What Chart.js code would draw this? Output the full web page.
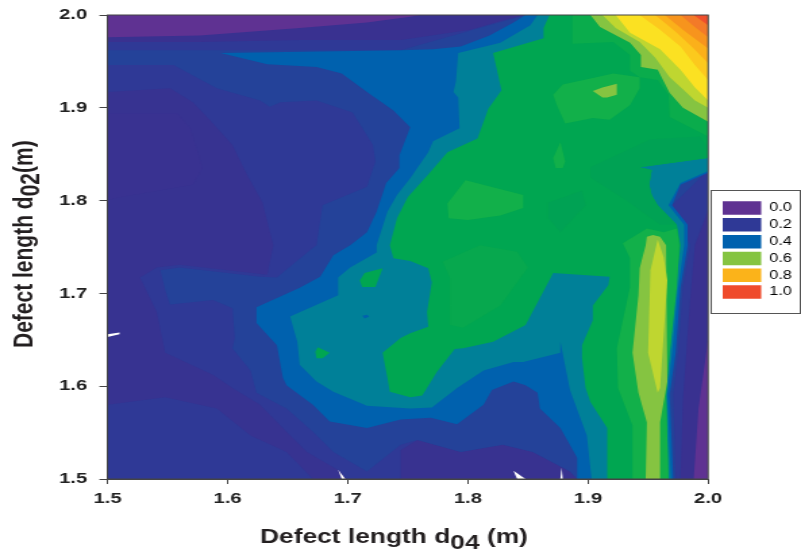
<!DOCTYPE html>
<html>
<head>
<meta charset="utf-8">
<title>Defect length contour</title>
<script src="https://cdn.jsdelivr.net/npm/chart.js@4"></script>
<style>
  html, body { margin: 0; background: #fff; overflow: hidden; }
  /* the source figure is stretched sideways, so the whole chart is too */
  #plot { position: absolute; left: 0; top: 0; transform-origin: 0 0; transform: scaleX(1.3508); }
</style>
</head>
<body>
<canvas id="plot" width="593" height="552"></canvas>
<script>
const xTicks = [1.5, 1.6, 1.7, 1.8, 1.9, 2.0];
const yTicks = [1.5, 1.6, 1.7, 1.8, 1.9, 2.0];
const legendLabels = ['0.0', '0.2', '0.4', '0.6', '0.8', '1.0'];
const legendColors = ['#5f3292', '#2f3996', '#0061ae', '#85c441', '#fbb31a', '#ef4a2b'];

// contour outlines, [d04, d02] in metres
const full = [[1.5,1.5],[1.5,2],[2,2],[2,1.5]];
const topBand = [[1.5,2],[1.848,2],[1.831,1.995],[1.802,1.984],[1.744,1.973],[1.66,1.973],[1.577,1.971],[1.5,1.971]];
const topPurple = [[1.5,2],[1.76,2],[1.752,1.998],[1.716,1.992],[1.66,1.986],[1.577,1.978],[1.5,1.976]];
const leftLow = [[1.5,1.917],[1.552,1.921],[1.571,1.906],[1.585,1.887],[1.604,1.86],[1.616,1.828],[1.629,1.798],[1.638,1.752],[1.633,1.72],[1.56,1.731],[1.541,1.728],[1.527,1.717],[1.541,1.68],[1.548,1.636],[1.558,1.63],[1.588,1.612],[1.604,1.598],[1.627,1.58],[1.649,1.551],[1.666,1.529],[1.694,1.508],[1.699,1.5],[1.671,1.5],[1.649,1.529],[1.619,1.547],[1.591,1.576],[1.548,1.588],[1.5,1.58]];
const leftInner = [[1.5,1.894],[1.558,1.894],[1.569,1.878],[1.579,1.835],[1.571,1.817],[1.521,1.806],[1.5,1.801]];
const bottomLow = [[1.744,1.5],[1.744,1.531],[1.758,1.542],[1.794,1.529],[1.829,1.537],[1.854,1.529],[1.885,1.508],[1.891,1.5]];
const rightLow = [[2,1.79],[1.989,1.752],[1.985,1.693],[1.979,1.585],[1.977,1.5],[2,1.5]];
const rightPurple = [[2,1.65],[1.992,1.576],[1.988,1.5],[2,1.5]];
const midBlue = [[1.5,1.962],[1.744,1.962],[1.848,2],[2,2],[2,1.833],[1.97,1.795],[1.985,1.752],[1.979,1.706],[1.975,1.636],[1.971,1.591],[1.973,1.5],[1.891,1.5],[1.885,1.508],[1.854,1.529],[1.829,1.537],[1.794,1.529],[1.758,1.542],[1.744,1.537],[1.716,1.508],[1.688,1.529],[1.671,1.551],[1.649,1.576],[1.624,1.593],[1.619,1.617],[1.604,1.641],[1.606,1.652],[1.604,1.684],[1.588,1.693],[1.552,1.688],[1.548,1.704],[1.544,1.725],[1.56,1.728],[1.627,1.718],[1.641,1.717],[1.669,1.747],[1.674,1.752],[1.679,1.795],[1.716,1.815],[1.723,1.842],[1.721,1.86],[1.704,1.895],[1.674,1.908],[1.644,1.906],[1.635,1.901],[1.627,1.908],[1.591,1.921],[1.575,1.932],[1.555,1.946],[1.5,1.946]];
const blue = [[1.848,2],[1.838,1.992],[1.818,1.978],[1.794,1.966],[1.771,1.963],[1.744,1.962],[1.594,1.959],[1.633,1.947],[1.674,1.944],[1.695,1.937],[1.716,1.917],[1.738,1.897],[1.752,1.879],[1.743,1.849],[1.743,1.835],[1.732,1.819],[1.724,1.788],[1.716,1.766],[1.702,1.752],[1.688,1.741],[1.677,1.718],[1.66,1.706],[1.624,1.685],[1.624,1.668],[1.641,1.644],[1.646,1.609],[1.649,1.601],[1.671,1.58],[1.685,1.562],[1.716,1.555],[1.744,1.564],[1.769,1.566],[1.791,1.559],[1.813,1.58],[1.82,1.596],[1.838,1.605],[1.848,1.601],[1.858,1.593],[1.86,1.576],[1.877,1.555],[1.891,1.523],[1.891,1.5],[1.971,1.5],[1.968,1.591],[1.973,1.636],[1.977,1.706],[1.983,1.752],[1.983,1.774],[1.97,1.795],[1.977,1.817],[2,1.83],[2,2]];
const teal = [[1.858,2],[1.852,1.989],[1.827,1.97],[1.792,1.959],[1.79,1.928],[1.788,1.917],[1.792,1.911],[1.793,1.878],[1.771,1.864],[1.767,1.852],[1.752,1.824],[1.741,1.806],[1.733,1.788],[1.724,1.752],[1.724,1.744],[1.702,1.728],[1.692,1.717],[1.692,1.698],[1.652,1.675],[1.658,1.648],[1.66,1.623],[1.674,1.605],[1.688,1.594],[1.716,1.579],[1.752,1.576],[1.77,1.577],[1.791,1.598],[1.813,1.617],[1.838,1.626],[1.846,1.626],[1.877,1.636],[1.877,1.648],[1.885,1.596],[1.899,1.547],[1.903,1.5],[1.969,1.5],[1.966,1.591],[1.97,1.636],[1.975,1.706],[1.98,1.752],[1.98,1.774],[1.967,1.795],[1.977,1.819],[2,1.832],[2,2]];
const tealBump1 = [[1.71,1.714],[1.714,1.722],[1.729,1.727],[1.723,1.707],[1.712,1.707]];
const tealBump2 = [[1.673,1.637],[1.675,1.642],[1.685,1.636],[1.679,1.63],[1.674,1.63]];
const blueDot = [[1.712,1.676],[1.716,1.677],[1.718,1.675],[1.714,1.673]];
const green = [[1.868,2],[1.863,1.986],[1.863,1.975],[1.821,1.959],[1.828,1.919],[1.817,1.899],[1.808,1.867],[1.783,1.852],[1.767,1.828],[1.75,1.804],[1.741,1.781],[1.735,1.752],[1.738,1.738],[1.752,1.735],[1.767,1.727],[1.77,1.712],[1.766,1.68],[1.767,1.664],[1.752,1.657],[1.744,1.652],[1.729,1.636],[1.733,1.609],[1.735,1.594],[1.752,1.588],[1.762,1.59],[1.774,1.615],[1.789,1.64],[1.796,1.641],[1.821,1.648],[1.848,1.666],[1.871,1.722],[1.918,1.718],[1.917,1.709],[1.904,1.687],[1.904,1.671],[1.895,1.644],[1.895,1.63],[1.898,1.598],[1.902,1.583],[1.916,1.555],[1.916,1.5],[1.967,1.5],[1.965,1.591],[1.968,1.636],[1.973,1.706],[1.977,1.752],[1.974,1.774],[1.958,1.795],[1.953,1.806],[1.951,1.817],[1.953,1.833],[1.943,1.836],[2,1.846],[2,2]];
const darkGreenRight = [[1.902,1.836],[1.952,1.866],[1.993,1.869],[1.999,1.858],[1.999,1.846],[1.943,1.836],[1.953,1.833],[1.951,1.817],[1.953,1.806],[1.958,1.795],[1.974,1.774],[1.96,1.774],[1.931,1.801],[1.902,1.825]];
const darkGreenMid = [[1.867,1.798],[1.895,1.811],[1.898,1.795],[1.877,1.766],[1.867,1.781]];
const softGreen = [[1.779,1.734],[1.81,1.752],[1.841,1.745],[1.85,1.728],[1.827,1.687],[1.796,1.663],[1.785,1.666],[1.785,1.717]];
const lightGreenLeft = [[1.783,1.797],[1.798,1.822],[1.846,1.806],[1.846,1.792],[1.827,1.784],[1.8,1.779],[1.784,1.781]];
const lightGreenTop = [[1.887,2],[1.902,2],[1.91,1.987],[1.935,1.97],[1.944,1.957],[1.944,1.944],[1.958,1.941],[1.968,1.916],[1.979,1.9],[2,1.885],[2,1.869],[1.968,1.89],[1.967,1.914],[1.958,1.93],[1.943,1.933],[1.935,1.94],[1.935,1.957],[1.921,1.971],[1.887,1.969]];
const lightGreenCentre = [[1.871,1.914],[1.879,1.925],[1.904,1.932],[1.921,1.937],[1.943,1.933],[1.943,1.921],[1.935,1.903],[1.918,1.887],[1.904,1.889],[1.881,1.883],[1.874,1.903]];
const lightGreenTear = [[1.877,1.863],[1.881,1.842],[1.879,1.835],[1.873,1.835],[1.871,1.846]];
const limeDrop = [[1.904,1.918],[1.912,1.922],[1.924,1.926],[1.924,1.914],[1.916,1.911],[1.912,1.911]];
const ribbon1 = [[1.929,1.754],[1.949,1.77],[1.963,1.766],[1.974,1.77],[1.976,1.752],[1.974,1.706],[1.968,1.636],[1.965,1.591],[1.967,1.5],[1.937,1.5],[1.937,1.558],[1.925,1.598],[1.924,1.641],[1.935,1.707],[1.935,1.738]];
const ribbon2 = [[1.949,1.761],[1.954,1.763],[1.96,1.761],[1.965,1.752],[1.966,1.706],[1.966,1.636],[1.966,1.605],[1.96,1.561],[1.96,1.5],[1.948,1.5],[1.949,1.561],[1.942,1.593],[1.937,1.636],[1.942,1.698],[1.943,1.727],[1.948,1.752]];
const ribbon3 = [[1.958,1.758],[1.952,1.725],[1.95,1.636],[1.958,1.593],[1.96,1.598],[1.966,1.714],[1.963,1.739]];
const cornerA = [[1.902,2],[1.91,1.987],[1.935,1.97],[1.944,1.957],[1.944,1.944],[1.958,1.941],[1.968,1.916],[1.979,1.9],[2,1.885],[2,2]];
const cornerB = [[1.912,2],[1.923,1.986],[1.943,1.971],[1.956,1.954],[1.968,1.933],[1.979,1.92],[1.989,1.908],[2,1.9],[2,2]];
const cornerC = [[1.923,2],[1.935,1.981],[1.96,1.963],[1.977,1.941],[1.989,1.922],[2,1.908],[2,2]];
const cornerD = [[1.943,2],[1.96,1.984],[1.977,1.966],[1.989,1.946],[2,1.93],[2,2]];
const cornerE = [[1.956,2],[1.973,1.982],[1.988,1.964],[2,1.948],[2,2]];
const cornerF = [[1.964,2],[1.979,1.984],[2,1.964],[2,2]];
const cornerG = [[1.977,2],[1.989,1.987],[2,1.976],[2,2]];
const cornerH = [[1.988,2],[2,1.989],[2,2]];
const flecks = [
  [[1.5,1.653],[1.51,1.656],[1.51,1.658],[1.5,1.656]],
  [[1.692,1.51],[1.698,1.5],[1.695,1.5]],
  [[1.838,1.509],[1.848,1.5],[1.841,1.5]],
  [[1.878,1.512],[1.879,1.5],[1.877,1.5]]
];

// paint order, low values first
const layers = [
  [full, '#2f3996'], [topBand, '#393190'], [topPurple, '#5f3292'],
  [leftLow, '#373391'], [leftInner, '#393291'], [bottomLow, '#383290'],
  [rightLow, '#393190'], [rightPurple, '#5f3292'],
  [midBlue, '#244299'], [blue, '#0061ae'], [teal, '#008098'], [tealBump1, '#00a651'],
  [tealBump2, '#00a651'], [blueDot, '#0061ae'], [green, '#00a651'],
  [darkGreenRight, '#00a254'], [darkGreenMid, '#00a254'], [softGreen, '#07a84e'],
  [lightGreenLeft, '#12b04a'], [lightGreenTop, '#0aac4c'], [lightGreenCentre, '#12b04a'],
  [lightGreenTear, '#12b04a'], [limeDrop, '#85c441'], [ribbon1, '#12b04a'],
  [ribbon2, '#85c441'], [ribbon3, '#bfd630'], [cornerA, '#85c441'], [cornerB, '#bfd630'],
  [cornerC, '#fbe122'], [cornerD, '#fcc91d'], [cornerE, '#fbb01a'], [cornerF, '#f7941d'],
  [cornerG, '#f37a28'], [cornerH, '#ef4f2c'],
  ...flecks.map(f => [f, '#ffffff'])
];

// axis titles have lowered digits and the legend sits in a frame
const framePlugin = {
  id: 'frame',
  beforeDraw(chart) {
    const legend = chart.legend;
    legend.left = 531.7;
    legend.right = 593;
    legend.top = 198;
    legend.bottom = 320;
  },
  afterDraw(chart) {
    const { ctx, chartArea: a } = chart;
    ctx.save();
    ctx.strokeStyle = '#444';
    ctx.lineWidth = 1;
    ctx.strokeRect(a.left, a.top, a.right - a.left, a.bottom - a.top);
    ctx.strokeStyle = '#555';
    ctx.strokeRect(526.5, 190.5, 66, 123);

    ctx.fillStyle = '#231f20';
    ctx.textBaseline = 'alphabetic';
    ctx.font = 'bold 19.5px "Liberation Sans"';
    let x = 192.5;
    for (const [text, drop] of [['Defect length d', 0], ['04', 5.5], [' (m)', 0]]) {
      ctx.fillText(text, x, 543 + drop);
      x += ctx.measureText(text).width;
    }
    ctx.translate(24.4, 348);
    ctx.rotate(-Math.PI / 2);
    ctx.font = 'bold 21px "Liberation Sans"';
    x = 0;
    for (const [text, drop] of [['Defect length d', 0], ['02', 4.5], ['(m)', 0]]) {
      ctx.fillText(text, x, drop);
      x += ctx.measureText(text).width;
    }
    ctx.restore();
  }
};

const tickFont = { family: '"Liberation Sans"', size: 15, weight: 'bold' };

new Chart(document.getElementById('plot'), {
  type: 'scatter',
  data: {
    datasets: layers.map(([outline, color], i) => ({
      data: outline.map(([x, y]) => ({ x, y })),
      showLine: true,
      fill: 'shape',
      backgroundColor: color,
      borderColor: color,
      borderWidth: 0,
      pointRadius: 0,
      tension: 0,
      order: layers.length - i
    }))
  },
  options: {
    responsive: false,
    animation: false,
    layout: { padding: { top: 15, right: 4.3 } },
    events: [],
    scales: {
      x: {
        type: 'linear', min: 1.5, max: 2,
        afterBuildTicks: s => { s.ticks = xTicks.map(value => ({ value })); },
        afterFit: s => { s.height = 73; },
        grid: { drawOnChartArea: false, tickLength: 5, color: '#444' },
        border: { color: '#444' },
        ticks: { font: tickFont, color: '#222', maxRotation: 0, padding: 6, callback: v => v.toFixed(1) }
      },
      y: {
        type: 'linear', min: 1.5, max: 2,
        afterBuildTicks: s => { s.ticks = yTicks.map(value => ({ value })); },
        afterFit: s => { s.width = 79.6; s.paddingTop = 0; s.paddingBottom = 0; },
        grid: { drawOnChartArea: false, tickLength: 6, color: '#444' },
        border: { color: '#444' },
        ticks: { font: tickFont, color: '#222', padding: 9, callback: v => v.toFixed(1) }
      }
    },
    plugins: {
      tooltip: { enabled: false },
      legend: {
        position: 'right',
        align: 'start',
        fullSize: false,
        labels: {
          boxWidth: 28.5,
          boxHeight: 13.5,
          padding: 3.3,
          color: '#333',
          font: { family: '"Liberation Sans"', size: 12 },
          generateLabels: () => legendLabels.map((text, i) => ({
            text, fillStyle: legendColors[i], strokeStyle: legendColors[i], lineWidth: 0, hidden: false, datasetIndex: i
          }))
        }
      }
    }
  },
  plugins: [framePlugin]
});
</script>
</body>
</html>
